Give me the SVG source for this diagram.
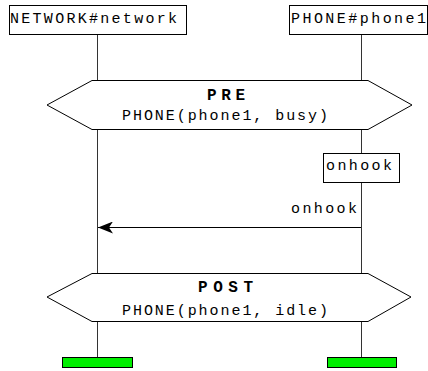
<svg xmlns="http://www.w3.org/2000/svg" width="428" height="371" viewBox="0 0 428 371">
<style>
.bg{fill:#ffffff}
.box{fill:#ffffff;stroke:#000000;stroke-width:1}
.hex{fill:#ffffff;stroke:#000000;stroke-width:1}
.life{stroke:#333333;stroke-width:1;fill:none}
.msg{stroke:#000000;stroke-width:1;fill:none}
.end{fill:#00ee00;stroke:#000000;stroke-width:1}
.t{font-family:"Liberation Mono","DejaVu Sans Mono",monospace;font-size:15px;fill:#000000}
.b{font-weight:bold;font-size:16px}
</style>
<defs>
<marker id="arr" viewBox="0 0 15 12" refX="15" refY="6" markerWidth="15" markerHeight="12" markerUnits="userSpaceOnUse" orient="auto">
<path d="M15,6 L0,0 L4,6 L0,12 Z" fill="#000000"/>
</marker>
</defs>
<rect class="bg" x="0" y="0" width="428" height="371"/>
<g id="lifelines">
<line class="life" x1="97.5" y1="35" x2="97.5" y2="80"/>
<line class="life" x1="97.5" y1="129" x2="97.5" y2="273"/>
<line class="life" x1="97.5" y1="322" x2="97.5" y2="357"/>
<line class="life" x1="361.5" y1="35" x2="361.5" y2="80"/>
<line class="life" x1="361.5" y1="129" x2="361.5" y2="153"/>
<line class="life" x1="361.5" y1="183" x2="361.5" y2="273"/>
<line class="life" x1="361.5" y1="322" x2="361.5" y2="357"/>
</g>
<g id="network">
<rect class="box" x="9.5" y="5.5" width="177" height="29"/>
<text class="t" x="10" y="23" textLength="167" lengthAdjust="spacing">NETWORK#network</text>
</g>
<g id="phone1">
<rect class="box" x="289.5" y="5.5" width="138" height="29"/>
<text class="t" x="291" y="23" textLength="135" lengthAdjust="spacing">PHONE#phone1</text>
</g>
<g id="pre">
<polygon class="hex" points="47,105 92,80.5 368,80.5 412,105 368,129.5 92,129.5"/>
<text class="t b" x="207" y="100" textLength="38" lengthAdjust="spacing">PRE</text>
<text class="t" x="122" y="120" textLength="206" lengthAdjust="spacing">PHONE(phone1, busy)</text>
</g>
<g id="onhook-action">
<rect class="box" x="323.5" y="153.5" width="76" height="29"/>
<text class="t" x="326" y="170" textLength="66" lengthAdjust="spacing">onhook</text>
</g>
<g id="connectors">
<line class="msg" x1="361" y1="227.5" x2="98" y2="227.5" marker-end="url(#arr)"/>
<text class="t" x="291" y="213" textLength="66" lengthAdjust="spacing">onhook</text>
</g>
<g id="post">
<polygon class="hex" points="47,297 92,273.5 368,273.5 411,297 368,321.5 92,321.5"/>
<text class="t b" x="198" y="292" textLength="55" lengthAdjust="spacing">POST</text>
<text class="t" x="122" y="315" textLength="206" lengthAdjust="spacing">PHONE(phone1, idle)</text>
</g>
<g id="end-network">
<rect class="end" x="62.5" y="357.5" width="70" height="10"/>
</g>
<g id="end-phone1">
<rect class="end" x="327.5" y="357.5" width="69" height="10"/>
</g>
</svg>
